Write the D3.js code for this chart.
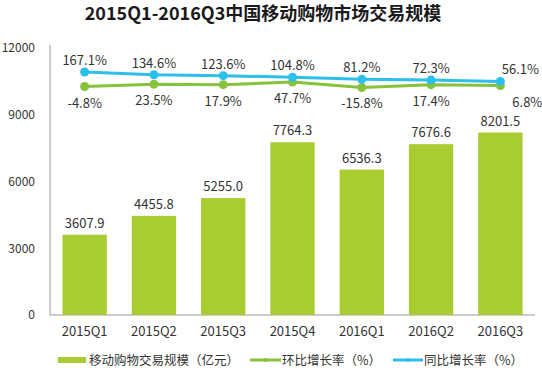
<!DOCTYPE html>
<html><head><meta charset="utf-8">
<script src="https://cdn.jsdelivr.net/npm/d3@7/dist/d3.min.js"></script>
<style>
html,body{margin:0;padding:0;background:#fff;}
svg{display:block;font-family:"Microsoft YaHei","Noto Sans CJK SC","Noto Sans",sans-serif;}
</style></head>
<body><svg id="c" width="542" height="374"></svg>
<script>
const categories = ["2015Q1","2015Q2","2015Q3","2015Q4","2016Q1","2016Q2","2016Q3"];
const scaleValues = [3607.9,4455.8,5255.0,7764.3,6536.3,7676.6,8201.5];
const qoqRate = [-4.8,23.5,17.9,47.7,-15.8,17.4,6.8];
const yoyRate = [167.1,134.6,123.6,104.8,81.2,72.3,56.1];
const yTicks = [0,3000,6000,9000,12000];
const legendLabels = ["移动购物交易规模（亿元）","环比增长率（%）","同比增长率（%）"];
const title = "2015Q1-2016Q3中国移动购物市场交易规模";

const barColor = "#a8cc32", greenColor = "#86c23c", blueColor = "#2dbfec";
const svg = d3.select("#c");
const pLeft = 50, pRight = 535, pTop = 48, pBottom = 315;

const x = d3.scaleBand().domain(categories).range([pLeft, pRight]).paddingInner(0.36).paddingOuter(0.18);
const y = d3.scaleLinear().domain([0,12000]).range([pBottom, pTop]);
const y2 = d3.scaleLinear().domain([-2700,450]).range([pBottom, pTop]);

svg.append("text").attr("x", 263).attr("y", 20).attr("text-anchor","middle")
  .attr("font-size", 18).attr("font-weight","bold").attr("fill","#1a1a1a").text(title);

// y axis
const ya = svg.append("g").attr("transform",`translate(${pLeft},0)`)
  .call(d3.axisLeft(y).tickValues(yTicks).tickFormat(d3.format("d")).tickSize(0).tickPadding(15));
ya.select(".domain").attr("stroke","#999").attr("d",`M0,${pTop-3}V${pBottom}`);
ya.selectAll("text").attr("font-size",12).attr("fill","#333").attr("font-family","'Microsoft YaHei','Noto Sans CJK SC',sans-serif");

// x axis
const xa = svg.append("g").attr("transform",`translate(0,${pBottom})`)
  .call(d3.axisBottom(x).tickSize(0).tickPadding(12));
xa.select(".domain").attr("stroke","#999").attr("d",`M${pLeft},0H${pRight}`);
xa.selectAll("text").attr("font-size",13).attr("fill","#333").attr("font-family","'Microsoft YaHei','Noto Sans CJK SC',sans-serif");

// bars
svg.selectAll("rect.bar").data(scaleValues).join("rect").attr("class","bar")
  .attr("x",(d,i)=>x(categories[i])).attr("width",x.bandwidth())
  .attr("y",d=>y(d)).attr("height",d=>pBottom-y(d)).attr("fill",barColor);
svg.selectAll("text.bl").data(scaleValues).join("text").attr("class","bl")
  .attr("x",(d,i)=>x(categories[i])+x.bandwidth()/2).attr("y",d=>y(d)-7)
  .attr("text-anchor","middle").attr("font-size",13).attr("fill","#333").text(d=>d.toFixed(1));

const cx = i => x(categories[i]) + x.bandwidth()/2;
function drawLine(vals,color,above){
  const line = d3.line().x((d,i)=>cx(i)).y(d=>y2(d));
  svg.append("path").datum(vals).attr("d",line).attr("fill","none").attr("stroke",color).attr("stroke-width",3);
  svg.append("g").selectAll("circle").data(vals).join("circle")
    .attr("cx",(d,i)=>cx(i)).attr("cy",d=>y2(d)).attr("r",4.5).attr("fill",color);
  svg.append("g").selectAll("text").data(vals).join("text")
    .attr("x",(d,i)=>cx(i) + (i===vals.length-1 ? (above?20:27) : 0))
    .attr("y",d=>y2(d) + (above ? -7 : 21))
    .attr("text-anchor","middle").attr("font-size",13).attr("fill","#333").text(d=>d.toFixed(1)+"%");
}
drawLine(qoqRate, greenColor, false);
drawLine(yoyRate, blueColor, true);

// legend
const ly = 360;
const lg = svg.append("g");
lg.append("rect").attr("x",58).attr("y",ly-3).attr("width",28).attr("height",6).attr("fill",barColor);
lg.append("text").attr("x",89).attr("y",ly+4.5).attr("font-size",12.5).attr("fill","#333").text(legendLabels[0]);
lg.append("line").attr("x1",250).attr("x2",281).attr("y1",ly).attr("y2",ly).attr("stroke",greenColor).attr("stroke-width",3);
lg.append("circle").attr("cx",265.5).attr("cy",ly).attr("r",2).attr("fill",greenColor);
lg.append("text").attr("x",282).attr("y",ly+4.5).attr("font-size",12.5).attr("fill","#333").text(legendLabels[1]);
lg.append("line").attr("x1",393).attr("x2",423).attr("y1",ly).attr("y2",ly).attr("stroke",blueColor).attr("stroke-width",3);
lg.append("circle").attr("cx",408).attr("cy",ly).attr("r",2).attr("fill",blueColor);
lg.append("text").attr("x",424).attr("y",ly+4.5).attr("font-size",12.5).attr("fill","#333").text(legendLabels[2]);
</script></body></html>
